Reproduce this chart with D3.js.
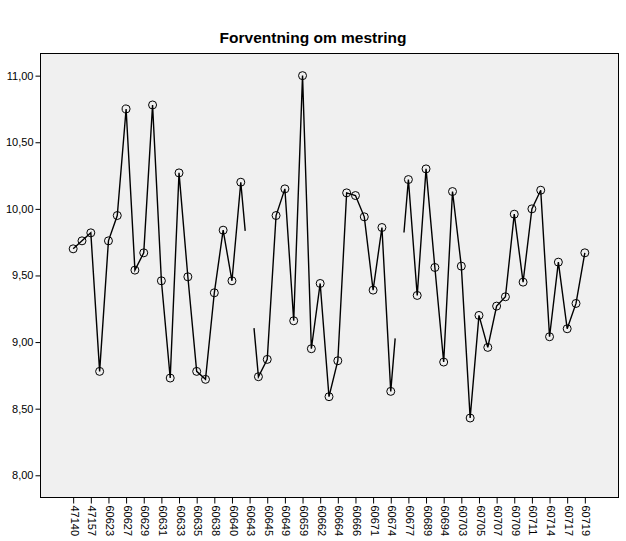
<!DOCTYPE html>
<html>
<head>
<meta charset="utf-8">
<script src="https://cdn.jsdelivr.net/npm/d3@7"></script>
<style>
  html, body { margin: 0; padding: 0; background: #ffffff; }
  svg { display: block; font-family: "Liberation Sans", Arial, sans-serif; }
</style>
</head>
<body>
<svg id="chart" width="626" height="541"></svg>
<script>
// ---- Data ----
const categories = [
  "47140","47151","47157","60621","60623","60625","60627","60628","60629","60630",
  "60631","60632","60633","60634","60635","60636","60638","60639","60640","60641",
  "60643","60644","60645","60646","60649","60650","60659","60660","60662","60663",
  "60664","60665","60666","60667","60671","60672","60674","60675","60677","60678",
  "60689","60690","60694","60695","60703","60704","60705","60706","60707","60708",
  "60709","60710","60711","60712","60714","60715","60717","60718","60719"
];
const values = [
  9.70, 9.76, 9.82, 8.78, 9.76, 9.95, 10.75, 9.54, 9.67, 10.78,
  9.46, 8.73, 10.27, 9.49, 8.78, 8.72, 9.37, 9.84, 9.46, 10.20,
  null, 8.74, 8.87, 9.95, 10.15, 9.16, 11.00, 8.95, 9.44, 8.59,
  8.86, 10.12, 10.10, 9.94, 9.39, 9.86, 8.63, null, 10.22, 9.35,
  10.30, 9.56, 8.85, 10.13, 9.57, 8.43, 9.20, 8.96, 9.27, 9.34,
  9.96, 9.45, 10.00, 10.14, 9.04, 9.60, 9.10, 9.29, 9.67
];
const tickLabels = [
  "47140","47157","60623","60627","60629","60631","60633","60635","60638","60640",
  "60643","60645","60649","60659","60662","60664","60666","60671","60674","60677",
  "60689","60694","60703","60705","60707","60709","60711","60714","60717","60719"
];
const yTicks = [8.0, 8.5, 9.0, 9.5, 10.0, 10.5, 11.0];
const title = "Forventning om mestring";

// ---- Layout ----
const svg = d3.select("#chart");
const plot = { left: 40, right: 618, top: 53, bottom: 497 };

const x = d3.scalePoint()
  .domain(categories)
  .range([plot.left, plot.right])
  .padding(3.76);

const y = d3.scaleLinear()
  .domain([7.837, 11.170])
  .range([plot.bottom, plot.top]);

const fmt = v => d3.format(".2f")(v).replace(".", ",");

// Title
svg.append("text")
  .attr("x", 313)
  .attr("y", 43)
  .attr("text-anchor", "middle")
  .style("font-size", "15.5px")
  .style("font-weight", "bold")
  .attr("fill", "#000")
  .text(title);

// Plot background
svg.append("rect")
  .attr("x", plot.left + 0.5)
  .attr("y", plot.top + 0.5)
  .attr("width", plot.right - plot.left)
  .attr("height", plot.bottom - plot.top)
  .attr("fill", "#f0f0f0")
  .attr("stroke", "#000")
  .attr("stroke-width", 1);

// Y axis
const yAxis = d3.axisLeft(y)
  .tickValues(yTicks)
  .tickFormat(fmt)
  .tickSize(5)
  .tickPadding(2);
const gy = svg.append("g")
  .attr("transform", `translate(${plot.left + 0.5},0)`)
  .call(yAxis);
gy.select(".domain").remove();
gy.selectAll(".tick line").attr("stroke", "#000");
gy.selectAll(".tick text")
  .style("font-size", "11px")
  .style("font-family", "'Liberation Sans', Arial, sans-serif")
  .attr("fill", "#000");

// X axis
const xAxis = d3.axisBottom(x)
  .tickValues(tickLabels)
  .tickSize(6)
  .tickPadding(3);
const gx = svg.append("g")
  .attr("transform", `translate(0,${plot.bottom + 0.5})`)
  .call(xAxis);
gx.select(".domain").remove();
gx.selectAll(".tick line").attr("stroke", "#000");
gx.selectAll(".tick text")
  .style("font-size", "11px")
  .style("font-family", "'Liberation Sans', Arial, sans-serif")
  .attr("fill", "#000")
  .attr("transform", "rotate(90)")
  .attr("text-anchor", "start")
  .attr("dominant-baseline", "middle")
  .attr("x", 8)
  .attr("y", 0)
  .attr("dy", null);

// Line segments (with gaps around missing categories, SPSS-style)
const step = x.step();
const pts = categories.map((c, i) => ({ i, c, v: values[i] })).filter(d => d.v !== null);
const segments = [];
let current = [];
for (let k = 0; k < pts.length; k++) {
  const p = pts[k];
  if (k === 0) { current.push([x(p.c), y(p.v)]); continue; }
  const q = pts[k - 1];
  const gap = p.i - q.i;
  if (gap === 1) {
    current.push([x(p.c), y(p.v)]);
  } else {
    const slope = (p.v - q.v) / gap;
    current.push([x(q.c) + step / 2, y(q.v + slope * 0.5)]);
    segments.push(current);
    current = [[x(p.c) - step / 2, y(p.v - slope * 0.5)], [x(p.c), y(p.v)]];
  }
}
segments.push(current);

const line = d3.line();
svg.append("g")
  .selectAll("path")
  .data(segments)
  .join("path")
  .attr("d", line)
  .attr("fill", "none")
  .attr("stroke", "#000")
  .attr("stroke-width", 1.4)
  .attr("stroke-linejoin", "miter");

// Markers
svg.append("g")
  .selectAll("circle")
  .data(pts)
  .join("circle")
  .attr("cx", d => x(d.c))
  .attr("cy", d => y(d.v))
  .attr("r", 4)
  .attr("fill", "none")
  .attr("stroke", "#000")
  .attr("stroke-width", 1);
</script>
</body>
</html>
